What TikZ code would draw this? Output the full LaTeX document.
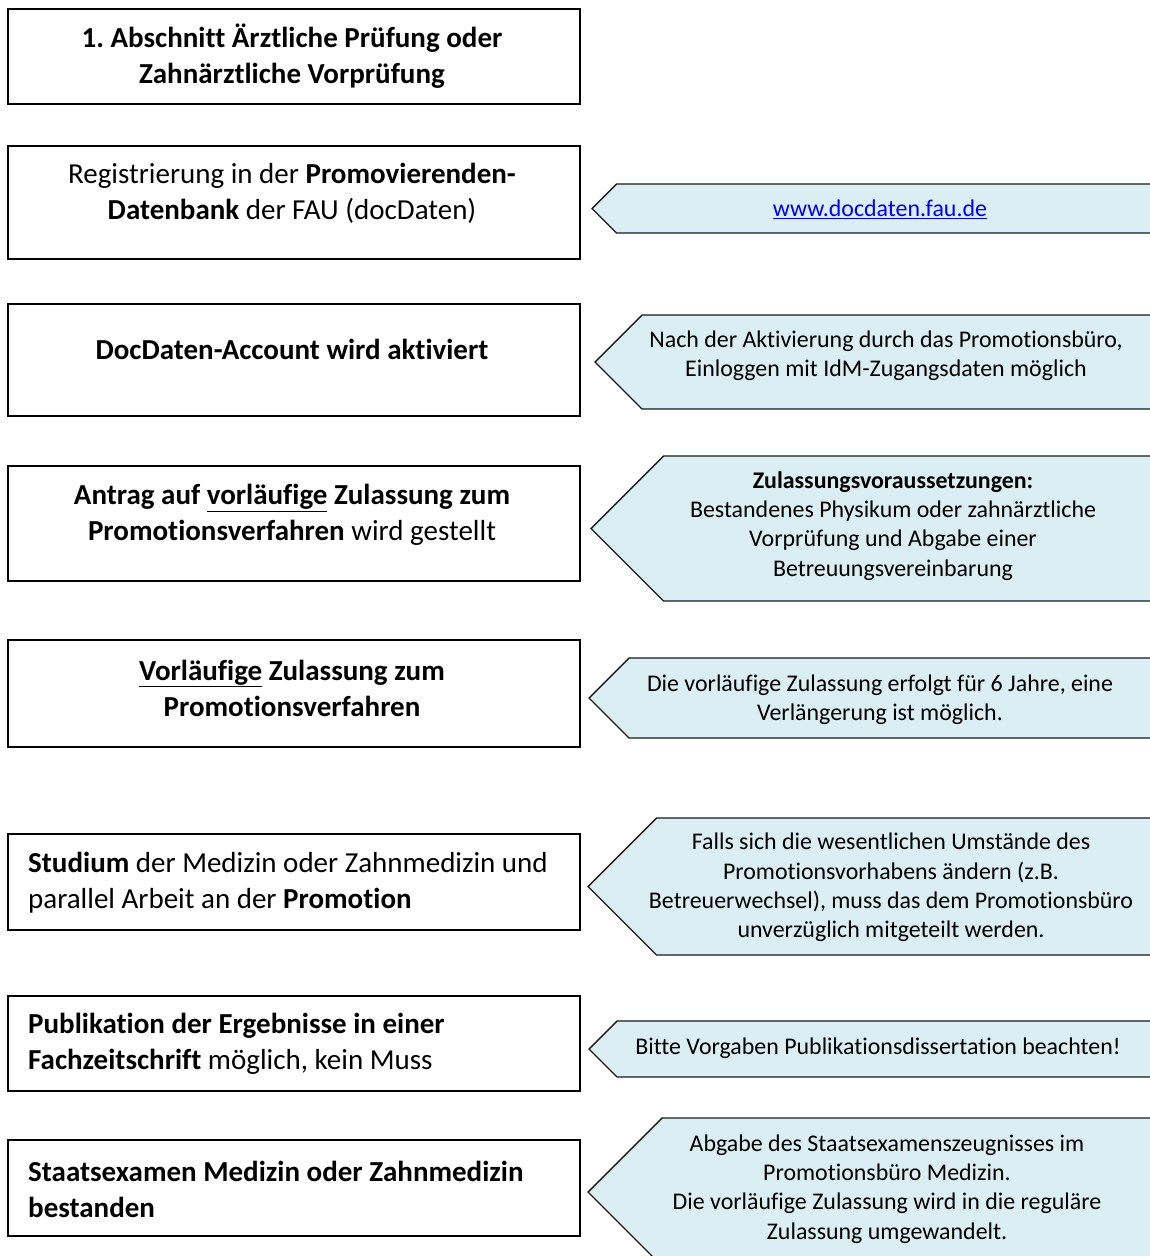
\documentclass[tikz,border=0pt]{standalone}
\usepackage{fontspec}
\setmainfont{Carlito}[Ligatures=NoCommon]
\definecolor{chevfill}{HTML}{DAEEF3}
\definecolor{linkblue}{HTML}{0000EE}
\frenchspacing
\begin{document}
\begin{tikzpicture}[x=1pt,y=-1pt,
  stepbox/.style={draw=black, line width=1.3pt, inner sep=0pt},
  chev/.style={draw=black!90, fill=chevfill, line width=1.4pt, line join=miter},
  btxt/.style={font=\fontsize{29}{36}\selectfont, align=center, inner sep=0pt},
  ltxt/.style={font=\fontsize{29}{36}\selectfont, align=left, inner sep=0pt, anchor=west},
  ctxt/.style={font=\fontsize{23.9}{29.3}\selectfont, align=center, inner sep=0pt}]
\useasboundingbox (0,0) rectangle (1150,1256);
\clip (0,0) rectangle (1150,1256);

% left boxes
\node[stepbox, minimum width=572pt, minimum height=95pt] (b1) at (294,56.5) {};
\node[btxt] (t1) at (292,56) {\textbf{1. Abschnitt Ärztliche Prüfung oder}\\\textbf{Zahnärztliche Vorprüfung}};

\node[stepbox, minimum width=572pt, minimum height=113pt] (b2) at (294,202.5) {};
\node[btxt] (t2) at (292,193) {Registrierung in der \textbf{Promovierenden-}\\\textbf{Datenbank} der FAU (docDaten)};

\node[stepbox, minimum width=572pt, minimum height=112pt] (b3) at (294,360) {};
\node[btxt] (t3) at (292,349) {\textbf{DocDaten-Account wird aktiviert}};

\node[stepbox, minimum width=572pt, minimum height=115pt] (b4) at (294,523.5) {};
\node[btxt] (t4) at (292,515) {\textbf{Antrag auf \underline{vorläufige} Zulassung zum}\\\textbf{Promotionsverfahren} wird gestellt};

\node[stepbox, minimum width=572pt, minimum height=107pt] (b5) at (294,693.5) {};
\node[btxt] (t5) at (292,688) {\textbf{\underline{Vorläufige} Zulassung zum}\\\textbf{Promotionsverfahren}};

\node[stepbox, minimum width=572pt, minimum height=96pt] (b6) at (294,882) {};
\node[ltxt] (t6) at (28,883) {\textbf{Studium} der Medizin oder Zahnmedizin und\\parallel Arbeit an der \textbf{Promotion}};

\node[stepbox, minimum width=572pt, minimum height=95pt] (b7) at (294,1043.5) {};
\node[ltxt] (t7) at (28,1044) {\textbf{Publikation der Ergebnisse in einer}\\\textbf{Fachzeitschrift} möglich, kein Muss};

\node[stepbox, minimum width=572pt, minimum height=96pt] (b8) at (294,1188) {};
\node[ltxt] (t8) at (28,1189) {\textbf{Staatsexamen Medizin oder Zahnmedizin}\\\textbf{bestanden}};

% chevrons
\draw[chev] (1165,184) -- (616.5,184) -- (592,208.5) -- (616.5,233) -- (1165,233) -- cycle;
\node[ctxt, text=linkblue] (c1) at (880,209) {\underline{www.docdaten.fau.de}};

\draw[chev] (1165,315) -- (642,315) -- (595,362) -- (642,409) -- (1165,409) -- cycle;
\node[ctxt] (c2) at (886,356) {Nach der Aktivierung durch das Promotionsbüro,\\Einloggen mit IdM-Zugangsdaten möglich};

\draw[chev] (1165,456) -- (663.5,456) -- (591,528.5) -- (663.5,601) -- (1165,601) -- cycle;
\node[ctxt] (c3) at (893,526) {\textbf{Zulassungsvoraussetzungen:}\\Bestandenes Physikum oder zahnärztliche\\Vorprüfung und Abgabe einer\\Betreuungsvereinbarung};

\draw[chev] (1165,658) -- (629,658) -- (589,698) -- (629,738) -- (1165,738) -- cycle;
\node[ctxt] (c4) at (880,699.5) {Die vorläufige Zulassung erfolgt für 6 Jahre, eine\\Verlängerung ist möglich.};

\draw[chev] (1165,818) -- (656.5,818) -- (588,886.5) -- (656.5,955) -- (1165,955) -- cycle;
\node[ctxt] (c5) at (891,887.5) {Falls sich die wesentlichen Umstände des\\Promotionsvorhabens ändern (z.B.\\Betreuerwechsel), muss das dem Promotionsbüro\\unverzüglich mitgeteilt werden.};

\draw[chev] (1165,1021) -- (617,1021) -- (589,1049) -- (617,1077) -- (1165,1077) -- cycle;
\node[ctxt] (c6) at (878,1048) {Bitte Vorgaben Publikationsdissertation beachten!};

\draw[chev] (1165,1118) -- (662,1118) -- (588,1192) -- (662,1266) -- (1165,1266) -- cycle;
\node[ctxt] (c7) at (887,1189) {Abgabe des Staatsexamenszeugnisses im\\Promotionsbüro Medizin.\\Die vorläufige Zulassung wird in die reguläre\\Zulassung umgewandelt.};
\end{tikzpicture}
\end{document}
